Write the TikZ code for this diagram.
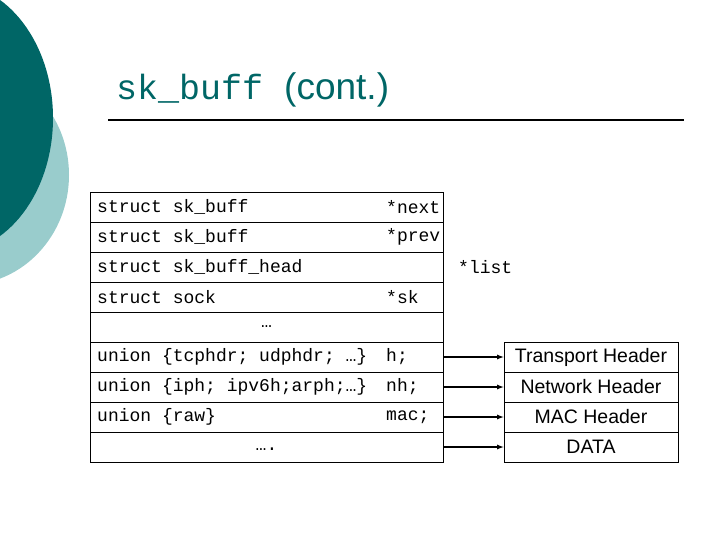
\documentclass[tikz,border=0pt]{standalone}
\usepackage{fontspec}
\setmainfont{Liberation Sans}
\setmonofont{Liberation Mono}
\definecolor{teal1}{RGB}{0,102,102}
\definecolor{teal2}{RGB}{153,204,204}
\begin{document}
\begin{tikzpicture}[x=1pt,y=-1pt,
  row/.style={draw,line width=0.8pt,minimum width=353pt,minimum height=30pt,inner sep=0pt},
  hdr/.style={draw,line width=0.8pt,minimum width=174pt,minimum height=30pt,inner sep=0pt,font=\fontsize{19.5}{22}\selectfont},
  mono/.style={font=\ttfamily\fontsize{18}{20}\selectfont,inner sep=0pt},
  arr/.style={-latex,line width=1.2pt}]
\useasboundingbox (0,0) rectangle (720,540);
\fill[teal2] (-35,175) ellipse [x radius=104,y radius=110];
\fill[teal1] (-50,118) ellipse [x radius=103,y radius=135];
\node[anchor=base west,inner sep=0pt,text=teal1] (title) at (116,100)
  {\ttfamily\fontsize{35}{40}\selectfont sk\_buff\ \rmfamily\fontsize{37}{40}\selectfont(cont.)};
\draw[line width=2pt] (108,120) -- (684,120);
\foreach \i/\n in {0/r1,1/r2,2/r3,3/r4,4/r5,5/r6,6/r7,7/r8,8/r9}
  \node[row] (\n) at (266.5,207+30*\i) {};
\node[mono,anchor=west] (l1) at (97,207) {struct sk\_buff};
\node[mono,anchor=west] (l2) at (97,237) {struct sk\_buff};
\node[mono,anchor=west] (l3) at (97,267) {struct sk\_buff\_head};
\node[mono,anchor=west] (l4) at (97,297) {struct sock};
\node[mono] (l5) at (266.5,327) {…};
\node[mono,anchor=west] (l6) at (97,357) {union \{tcphdr; udphdr; …\}};
\node[mono,anchor=west] (l7) at (97,387) {union \{iph; ipv6h;arph;…\}};
\node[mono,anchor=west] (l8) at (97,417) {union \{raw\}};
\node[mono] (l9) at (266.5,449) {….};
\node[mono,anchor=west] (v1) at (386,207) {*next};
\node[mono,anchor=west] (v2) at (386,237) {*prev};
\node[mono,anchor=west] (v3) at (458,267) {*list};
\node[mono,anchor=west] (v4) at (386,297) {*sk};
\node[mono,anchor=west] (v6) at (386,357) {h;};
\node[mono,anchor=west] (v7) at (386,387) {nh;};
\node[mono,anchor=west] (v8) at (386,417) {mac;};
\node[hdr] (h1) at (591,357) {Transport Header};
\node[hdr] (h2) at (591,387) {Network Header};
\node[hdr] (h3) at (591,417) {MAC Header};
\node[hdr] (h4) at (591,447) {DATA};
\draw[arr] (r6.east) -- (h1.west);
\draw[arr] (r7.east) -- (h2.west);
\draw[arr] (r8.east) -- (h3.west);
\draw[arr] (r9.east) -- (h4.west);
\end{tikzpicture}
\end{document}
